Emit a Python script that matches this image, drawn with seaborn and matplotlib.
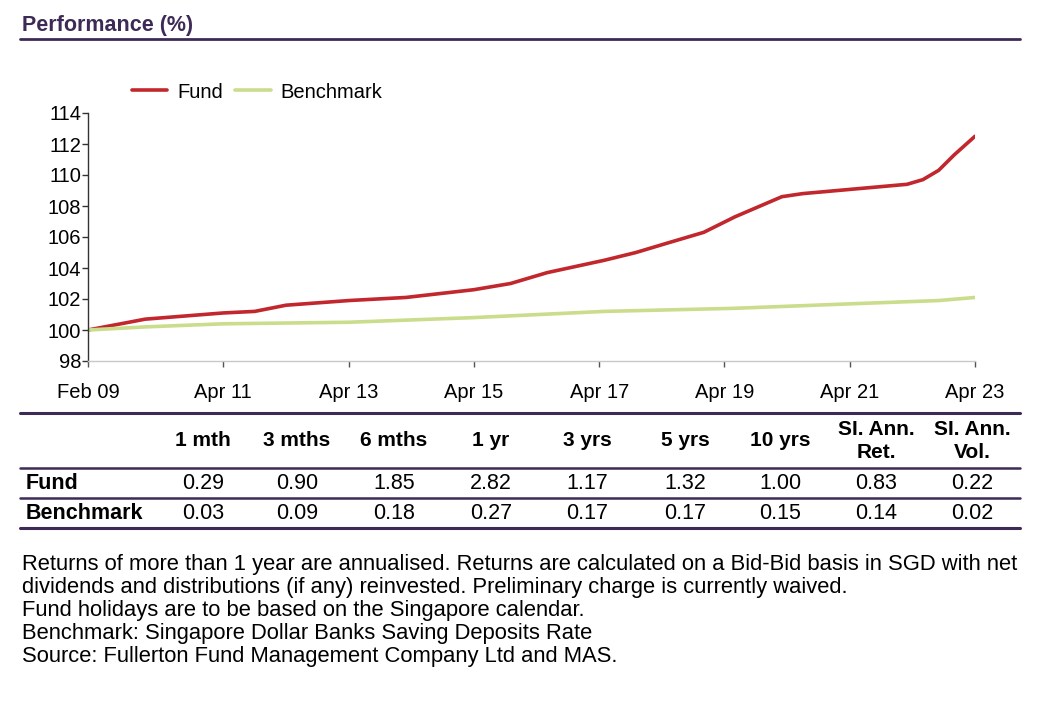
import matplotlib
matplotlib.use("Agg")
import matplotlib.pyplot as plt
from matplotlib.lines import Line2D
import pandas as pd
import seaborn as sns

# values (index, start = 100)
fund_dates = ["2009-02", "2010-01", "2011-04", "2011-10", "2012-04", "2013-04",
              "2014-03", "2015-04", "2015-11", "2016-06", "2017-05", "2017-11",
              "2018-05", "2018-12", "2019-06", "2020-03", "2020-07", "2021-05",
              "2022-03", "2022-06", "2022-09", "2022-12", "2023-04"]
fund_values = [100.0, 100.7, 101.1, 101.2, 101.6, 101.9,
               102.1, 102.6, 103.0, 103.7, 104.5, 105.0,
               105.6, 106.3, 107.3, 108.6, 108.8, 109.1,
               109.4, 109.7, 110.3, 111.3, 112.5]

bench_dates = ["2009-02", "2010-01", "2011-04", "2013-04", "2015-04",
               "2017-05", "2019-06", "2021-05", "2022-09", "2023-04"]
bench_values = [100.0, 100.2, 100.4, 100.5, 100.8,
                101.2, 101.4, 101.7, 101.9, 102.1]

tick_dates = ["2009-02", "2011-04", "2013-04", "2015-04", "2017-04",
              "2019-04", "2021-04", "2023-04"]
tick_labels = ["Feb 09", "Apr 11", "Apr 13", "Apr 15", "Apr 17",
               "Apr 19", "Apr 21", "Apr 23"]

# performance table
periods = ["1 mth", "3 mths", "6 mths", "1 yr", "3 yrs", "5 yrs", "10 yrs",
           "SI. Ann.\nRet.", "SI. Ann.\nVol."]
fund_returns = ["0.29", "0.90", "1.85", "2.82", "1.17", "1.32", "1.00", "0.83", "0.22"]
bench_returns = ["0.03", "0.09", "0.18", "0.27", "0.17", "0.17", "0.15", "0.14", "0.02"]

notes = [
    "Returns of more than 1 year are annualised. Returns are calculated on a Bid-Bid basis in SGD with net",
    "dividends and distributions (if any) reinvested. Preliminary charge is currently waived.",
    "Fund holidays are to be based on the Singapore calendar.",
    "Benchmark: Singapore Dollar Banks Saving Deposits Rate",
    "Source: Fullerton Fund Management Company Ltd and MAS.",
]

fund_df = pd.DataFrame({"date": pd.to_datetime(fund_dates), "value": fund_values, "series": "Fund"})
bench_df = pd.DataFrame({"date": pd.to_datetime(bench_dates), "value": bench_values, "series": "Benchmark"})
df = pd.concat([fund_df, bench_df], ignore_index=True)

sns.set_style("white")
plt.rcParams['font.family'] = ['Liberation Sans', 'DejaVu Sans']
plt.rcParams['text.color'] = 'black'
plt.rcParams['xtick.color'] = 'black'
plt.rcParams['ytick.color'] = 'black'

W, H = 1053, 702
purple = "#3d2b56"
red = "#c1272d"
green = "#cadd8c"
fig = plt.figure(figsize=(W / 100, H / 100), dpi=100)

def fx(px):
    return px / W

def fy(py):
    return 1 - py / H

# header
fig.text(fx(22), fy(31), "Performance (%)", fontsize=15.5, fontweight="bold",
         color=purple, va="baseline", ha="left")
fig.add_artist(Line2D([fx(20), fx(1020)], [fy(39), fy(39)], color=purple, lw=2))

# line chart
ax = fig.add_axes([fx(88), fy(361), fx(975) - fx(88), (361 - 113) / H])
sns.lineplot(data=df, x="date", y="value", hue="series", ax=ax,
             palette={"Fund": red, "Benchmark": green},
             linewidth=2.6, legend=False, sort=True)
ax.set_xlim(pd.Timestamp("2009-02-01"), pd.Timestamp("2023-04-01"))
ax.set_ylim(98, 114)
ax.set_yticks(range(98, 115, 2))
ax.set_xticks(pd.to_datetime(tick_dates))
ax.set_xticklabels(tick_labels)
ax.set_xlabel("")
ax.set_ylabel("")
for side in ["top", "right"]:
    ax.spines[side].set_visible(False)
ax.spines["left"].set_color("#333333")
ax.spines["left"].set_linewidth(1.0)
ax.spines["bottom"].set_color("#c8c8c8")
ax.spines["bottom"].set_linewidth(1.0)
ax.tick_params(axis="y", left=True, length=4, width=1, color="#333333",
               labelsize=14.5, pad=1, labelcolor="black")
ax.tick_params(axis="x", bottom=True, length=4, width=1, color="#555555",
               labelsize=14.5, pad=12, labelcolor="black")

handles = [Line2D([], [], color=red, lw=2.6), Line2D([], [], color=green, lw=2.6)]
fig.legend(handles, ["Fund", "Benchmark"], loc="center left",
           bbox_to_anchor=(fx(114), fy(92)), ncol=2, frameon=False, fontsize=14.5,
           handlelength=1.75, handletextpad=0.5, columnspacing=0.6,
           labelcolor="black")

# table
col_x = [203, 297, 394, 491, 587, 685, 780, 876, 972]
for y, lw in [(413, 2.2), (468, 1.8), (498, 1.8), (528, 2.2)]:
    fig.add_artist(Line2D([fx(20), fx(1020)], [fy(y), fy(y)], color=purple, lw=lw))
for x, p in zip(col_x, periods):
    fig.text(fx(x), fy(441), p, fontsize=15, fontweight="bold", ha="center",
             va="center", linespacing=1.3)
fig.text(fx(26), fy(489), "Fund", fontsize=15.5, fontweight="bold", va="baseline")
fig.text(fx(26), fy(519), "Benchmark", fontsize=15.5, fontweight="bold", va="baseline")
for x, a, b in zip(col_x, fund_returns, bench_returns):
    fig.text(fx(x), fy(489), a, fontsize=15.5, ha="center", va="baseline")
    fig.text(fx(x), fy(519), b, fontsize=15.5, ha="center", va="baseline")

# footnotes
for i, line in enumerate(notes):
    fig.text(fx(22), fy(570 + 23 * i), line, fontsize=15.8, ha="left", va="baseline")

fig.savefig("out.png", dpi=100)
